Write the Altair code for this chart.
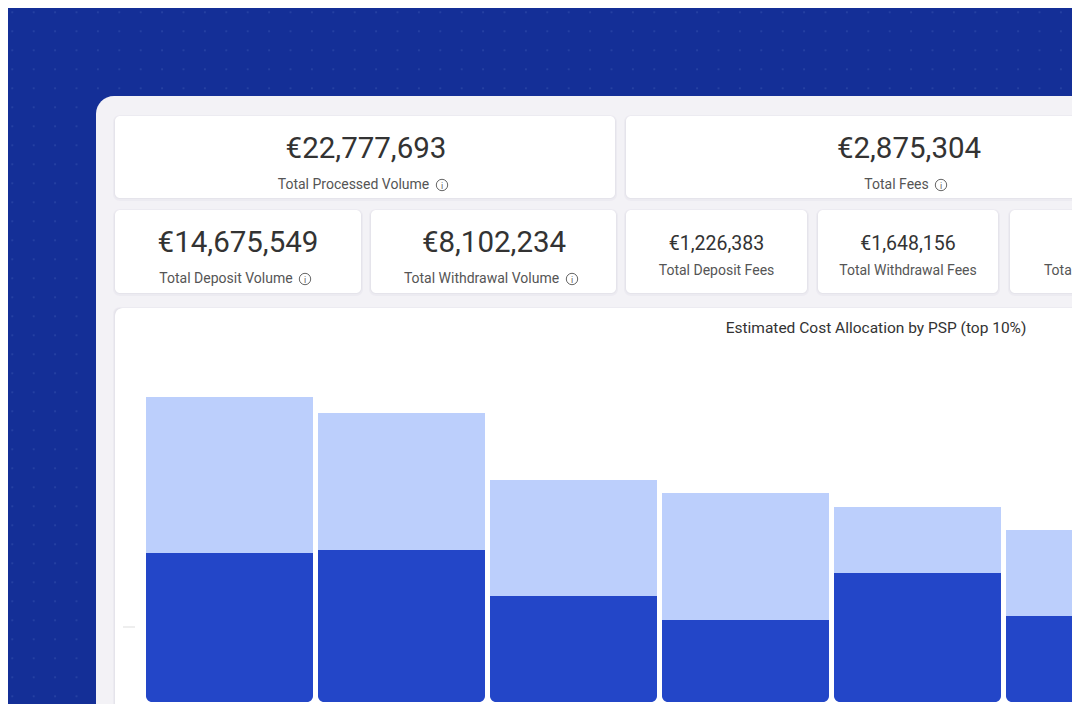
import altair as alt
import pandas as pd
import numpy as np

# ---------------- data ----------------
kpi_labels = ["Total Processed Volume", "Total Fees",
              "Total Deposit Volume", "Total Withdrawal Volume",
              "Total Deposit Fees", "Total Withdrawal Fees", "Total Refund Fees"]
kpi_values = [22777693, 2875304, 14675549, 8102234, 1226383, 1648156, 765]

chart_title = "Estimated Cost Allocation by PSP (top 10%)"
psp_names = ["PSP 1", "PSP 2", "PSP 3", "PSP 4", "PSP 5", "PSP 6"]
deposit_cost = [149000, 152000, 106000, 82000, 129000, 86000]
withdrawal_cost = [156000, 137000, 116000, 127000, 66000, 86000]

# ---------------- style / layout ----------------
OFF = 8  # page margin
FONT = "Roboto"
BG = "#142f97"
DOT = "#2b47a6"
PANEL = "#f3f2f6"
CARD = "#ffffff"
DARK = "#2346c8"
LIGHT = "#bccffc"
VAL_COL = "#333333"
LAB_COL = "#555555"


def px(v):
    return v - OFF


def rect(x1, y1, x2, y2, color, r=0, opacity=1.0):
    return alt.Chart(alt.Data(values=[{}])).mark_rect(
        color=color, cornerRadius=r, opacity=opacity
    ).encode(x=alt.value(px(x1)), x2=alt.value(px(x2)),
             y=alt.value(px(y1)), y2=alt.value(px(y2)))


def text(t, x, y, size, color, weight="normal", align="center"):
    return alt.Chart(alt.Data(values=[{"t": t}])).mark_text(
        font=FONT, fontSize=size, color=color, fontWeight=weight,
        align=align, baseline="middle"
    ).encode(x=alt.value(px(x)), y=alt.value(px(y)), text="t:N")


def info_icon(x, y):
    c = alt.Chart(alt.Data(values=[{}])).mark_point(
        shape="circle", filled=False, size=130, strokeWidth=1, color="#666666", opacity=1
    ).encode(x=alt.value(px(x)), y=alt.value(px(y)))
    return [c, text("i", x, y + 0.5, 9, "#666666")]


layers = []

# dotted background
gx = np.arange(12.3, 1080, 21.4)
gy = np.arange(12.3, 720, 19.0)
dots = pd.DataFrame([(x - OFF, y - OFF) for x in gx for y in gy], columns=["gx", "gy"])
layers.append(alt.Chart(dots).mark_square(size=4, color=DOT, opacity=0.75).encode(
    x=alt.X("gx:Q", scale=None, axis=None), y=alt.Y("gy:Q", scale=None, axis=None)))

# panel
layers.append(rect(96, 96, 1300, 900, PANEL, r=18))

# cards (screen coordinates)
cards = [(115, 116, 615, 198), (626, 116, 1192, 198),
         (115, 210, 361, 293), (371, 210, 616, 293),
         (626, 210, 807, 293), (818, 210, 998, 293), (1010, 210, 1190, 293)]
chart_card = (115, 308, 1640, 900)

for (x1, y1, x2, y2) in cards + [chart_card]:
    layers.append(rect(x1 - 2, y1 - 1, x2 + 2, y2 + 3, "#e4e3ea", r=7, opacity=0.45))
    layers.append(rect(x1 - 1, y1, x2 + 1, y2 + 1, "#e2e1e8", r=6, opacity=0.7))
for (x1, y1, x2, y2) in cards:
    layers.append(rect(x1, y1, x2, y2, CARD, r=5))
x1, y1, x2, y2 = chart_card
layers.append(rect(x1, y1, x2, y2, CARD, r=8))

# KPI texts
# (value x, value y, value size, label x, label y, icon x or None)
kpi_layout = [
    (366, 149, 29.5, 353.5, 185, 442),
    (909, 149, 29.5, 896.5, 185, 941),
    (238, 243, 29.5, 226, 279, 305),
    (494, 243, 29.5, 481.5, 279, 572),
    (716.5, 244, 19.5, 716.5, 271, None),
    (908, 244, 19.5, 908, 271, None),
    (1100, 244, 19.5, 1100, 271, None),
]
for (lab, val), (vx, vy, vs, lx, ly, ix) in zip(zip(kpi_labels, kpi_values), kpi_layout):
    layers.append(text(f"€{val:,}", vx, vy, vs, VAL_COL))
    layers.append(text(lab, lx, ly, 14, LAB_COL))
    if ix is not None:
        layers.extend(info_icon(ix, ly))

# chart title
layers.append(text(chart_title, 876, 328, 15.5, VAL_COL))

# bars
bars = pd.DataFrame({"psp": psp_names, "deposit": deposit_cost, "withdrawal": withdrawal_cost})
xscale = alt.Scale(range=[px(146), px(1173)], paddingInner=5 / 172, paddingOuter=0)
yscale = alt.Scale(domain=[0, 350000], range=[px(702), px(702) - 350], nice=False, zero=True)

base = alt.Chart(bars).transform_calculate(total="datum.deposit + datum.withdrawal")
layers.append(base.mark_bar(color=DARK, cornerRadiusBottomLeft=6, cornerRadiusBottomRight=6).encode(
    x=alt.X("psp:N", sort=None, scale=xscale, axis=None),
    y=alt.Y("deposit:Q", scale=yscale, axis=None),
))
layers.append(base.mark_bar(color=LIGHT).encode(
    x=alt.X("psp:N", sort=None, scale=xscale, axis=None),
    y=alt.Y("deposit:Q", scale=yscale, axis=None),
    y2="total:Q",
))

# faint axis tick remnant
layers.append(alt.Chart(alt.Data(values=[{"v": 75000}])).mark_rule(color="#dddddd", strokeWidth=1).encode(
    x=alt.value(px(123)), x2=alt.value(px(135)),
    y=alt.Y("v:Q", scale=yscale, axis=None)))

chart = alt.layer(*layers).resolve_scale(x="independent", y="independent").properties(
    width=1064, height=696, padding=0,
    autosize=alt.AutoSizeParams(type="none"),
    background=BG,
).configure_view(strokeWidth=0)

chart.save("out.html", embed_options={"renderer": "svg", "actions": False})
